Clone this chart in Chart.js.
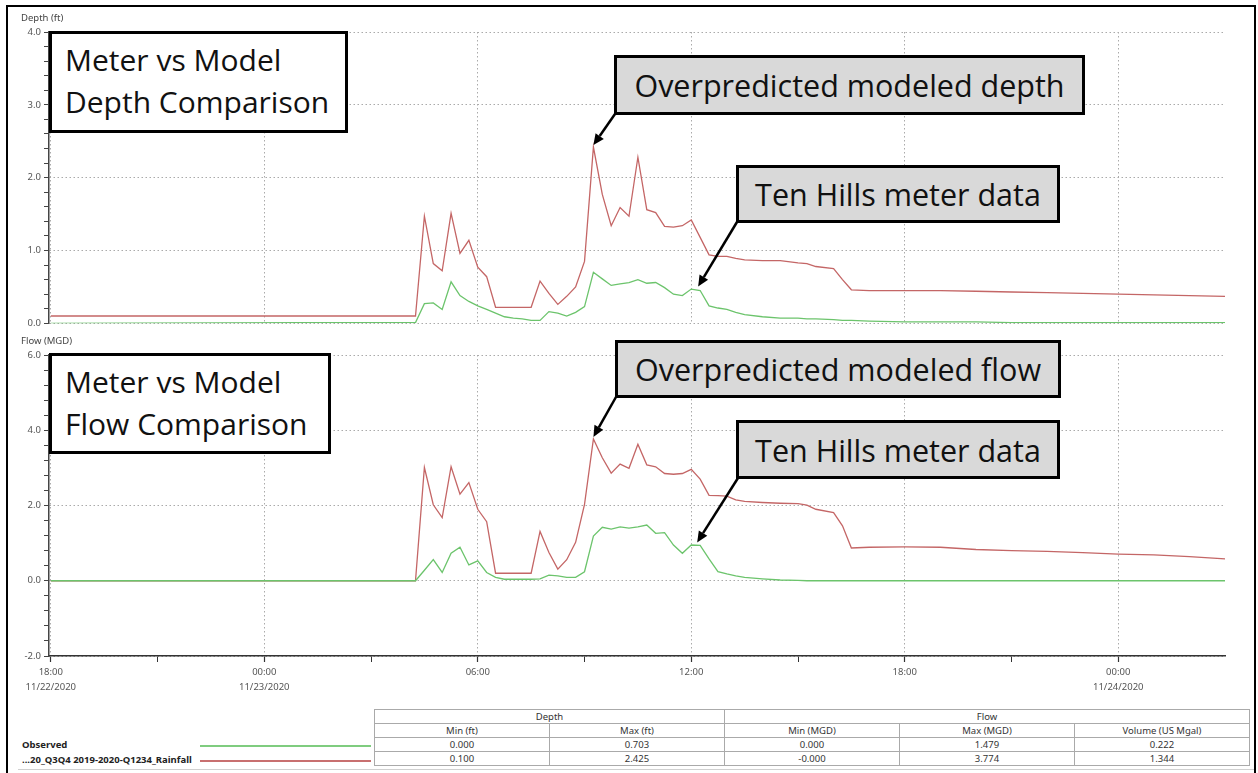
<!DOCTYPE html>
<html>
<head>
<meta charset="utf-8">
<script src="https://cdn.jsdelivr.net/npm/chart.js@4.4.1/dist/chart.umd.min.js"></script>
<style>
    body { margin: 0; background: #fff; }
    #page { position: relative; width: 1258px; height: 773px; overflow: hidden; font-family: 'Noto Sans', sans-serif; }
    #frame { position: absolute; left: 6px; top: 5px; width: 1246px; height: 800px; border: 2px solid #000; }
    canvas { position: absolute; left: 0; }
    .axisTitle { position: absolute; left: 21px; font-size: 9.5px; color: #444; }
    .note { position: absolute; box-sizing: border-box; border: 3px solid #000; font-family: 'Open Sans', sans-serif; color: #111; white-space: nowrap; }
    .title { background: #fff; font-size: 30px; line-height: 42px; padding: 5px 0 0 13px; }
    .callout { background: #d9d9d9; font-size: 30.5px; display: flex; align-items: center; justify-content: center; }
    #legend { position: absolute; left: 22px; font-size: 9.5px; font-weight: bold; color: #222; }
    .swatch { position: absolute; left: 200px; width: 171px; height: 2px; }
    table { position: absolute; left: 374px; top: 709px; border-collapse: collapse; font-size: 9.5px; color: #333; }
    td { border: 1px solid #aaa; width: 174px; height: 13px; padding: 0; text-align: center; line-height: 13px; }
    #bottomLine { position: absolute; left: 18px; top: 769px; width: 1236px; height: 1px; background: #d0d0d0; }
</style>
</head>
<body>
<div id="page">
    <div id="frame"></div>
    <canvas id="depthChart" width="1258" height="332" style="top:0"></canvas>
    <canvas id="flowChart" width="1258" height="372" style="top:330px"></canvas>

    <div class="axisTitle" style="top:11px">Depth (ft)</div>
    <div class="axisTitle" style="top:334px">Flow (MGD)</div>

    <div class="note title" style="left:49px;top:31px;width:299px;height:102px">Meter vs Model<br>Depth Comparison</div>
    <div class="note title" style="left:49px;top:353px;width:282px;height:101px">Meter vs Model<br>Flow Comparison</div>
    <div class="note callout" style="left:614px;top:55px;width:471px;height:60px">Overpredicted modeled depth</div>
    <div class="note callout" style="left:736px;top:165px;width:324px;height:58px">Ten Hills meter data</div>
    <div class="note callout" style="left:615px;top:340px;width:446px;height:58px">Overpredicted modeled flow</div>
    <div class="note callout" style="left:736px;top:420px;width:324px;height:59px">Ten Hills meter data</div>

    <div id="legend">
        <div style="position:absolute;top:738px;white-space:nowrap">Observed</div>
        <div style="position:absolute;top:753px;white-space:nowrap">...20_Q3Q4 2019-2020-Q1234_Rainfall</div>
    </div>
    <div class="swatch" style="top:745px;background:#7fcc7f"></div>
    <div class="swatch" style="top:760px;background:#c87070"></div>

    <table>
        <tr><td colspan="2">Depth</td><td colspan="3">Flow</td></tr>
        <tr><td>Min (ft)</td><td>Max (ft)</td><td>Min (MGD)</td><td>Max (MGD)</td><td>Volume (US Mgal)</td></tr>
        <tr><td>0.000</td><td>0.703</td><td>0.000</td><td>1.479</td><td>0.222</td></tr>
        <tr><td>0.100</td><td>2.425</td><td>-0.000</td><td>3.774</td><td>1.344</td></tr>
    </table>
    <div id="bottomLine"></div>
</div>

<script>
// hours after 18:00 11/22/2020
const hours = [0, 7, 10.25, 10.5, 10.75, 11, 11.25, 11.5, 11.75, 12,
    12.25, 12.5, 12.75, 13, 13.25, 13.5, 13.75, 14, 14.25, 14.5,
    14.75, 15, 15.25, 15.5, 15.75, 16, 16.25, 16.5, 16.75, 17,
    17.25, 17.5, 17.75, 18, 18.25, 18.5, 18.75, 19, 19.25, 19.5,
    20, 20.5, 21, 21.25, 21.5, 22, 22.25, 22.5, 23, 24,
    25, 26, 27, 28, 29, 30, 31, 32, 33];

const depthModel = [0.1, 0.1, 0.1, 1.47, 0.82, 0.72, 1.51, 0.96, 1.14, 0.77,
    0.64, 0.22, 0.22, 0.22, 0.22, 0.22, 0.58, 0.41, 0.26, 0.37,
    0.50, 0.85, 2.42, 1.77, 1.34, 1.59, 1.47, 2.28, 1.56, 1.52,
    1.33, 1.32, 1.34, 1.42, 1.18, 0.94, 0.92, 0.92, 0.89, 0.87,
    0.86, 0.86, 0.83, 0.82, 0.78, 0.75, 0.60, 0.46, 0.45, 0.45,
    0.45, 0.44, 0.43, 0.42, 0.41, 0.40, 0.39, 0.38, 0.37];

const depthObserved = [0, 0.01, 0.01, 0.27, 0.28, 0.19, 0.57, 0.38, 0.30, 0.24,
    0.19, 0.14, 0.09, 0.07, 0.06, 0.04, 0.04, 0.16, 0.14, 0.10,
    0.15, 0.23, 0.70, 0.61, 0.52, 0.54, 0.56, 0.60, 0.55, 0.56,
    0.49, 0.40, 0.38, 0.47, 0.45, 0.24, 0.21, 0.19, 0.15, 0.12,
    0.09, 0.07, 0.07, 0.06, 0.06, 0.05, 0.04, 0.04, 0.03, 0.02,
    0.02, 0.02, 0.01, 0.01, 0.01, 0.01, 0.01, 0.01, 0.01];

const flowModel = [0, 0, 0, 3.01, 2.02, 1.68, 3.03, 2.30, 2.61, 1.90,
    1.57, 0.20, 0.20, 0.20, 0.20, 0.20, 1.31, 0.75, 0.31, 0.56,
    1.02, 2.03, 3.77, 3.27, 2.86, 3.10, 2.99, 3.63, 3.08, 3.03,
    2.85, 2.83, 2.85, 2.96, 2.70, 2.27, 2.26, 2.25, 2.15, 2.11,
    2.08, 2.06, 2.05, 2.01, 1.90, 1.81, 1.46, 0.87, 0.89, 0.90,
    0.89, 0.83, 0.80, 0.78, 0.75, 0.71, 0.69, 0.64, 0.58];

const flowObserved = [0, 0, 0, 0.28, 0.56, 0.22, 0.73, 0.89, 0.42, 0.53,
    0.22, 0.09, 0.04, 0.04, 0.04, 0.04, 0.05, 0.15, 0.13, 0.09,
    0.09, 0.24, 1.19, 1.42, 1.37, 1.43, 1.40, 1.43, 1.48, 1.26,
    1.28, 0.95, 0.73, 0.95, 0.94, 0.58, 0.24, 0.18, 0.13, 0.09,
    0.05, 0.02, 0.01, 0, 0, 0, 0, 0, 0, 0,
    0, 0, 0, 0, 0, 0, 0, 0, 0];

const xTickHours = [0, 3, 6, 9, 12, 15, 18, 21, 24, 27, 30];
const xTickLabels = { 0: ['18:00', '11/22/2020'], 6: ['00:00', '11/23/2020'], 12: '06:00',
    18: '12:00', 24: '18:00', 30: ['00:00', '11/24/2020'] };

const GREEN = '#6cc46c';
const RED = '#c46666';
const tickFont = { family: 'Noto Sans', size: 9.5 };

const pts = vals => vals.map((v, i) => ({ x: hours[i], y: v }));
const isMajor = (v, step) => Math.abs(v / step - Math.round(v / step)) < 1e-6;

function drawArrow(ctx, x1, y1, x2, y2) {
    const a = Math.atan2(y2 - y1, x2 - x1);
    const len = 11, half = 5;
    const bx = x2 - len * Math.cos(a), by = y2 - len * Math.sin(a);
    ctx.save();
    ctx.strokeStyle = '#000';
    ctx.fillStyle = '#000';
    ctx.lineWidth = 2.5;
    ctx.beginPath();
    ctx.moveTo(x1, y1);
    ctx.lineTo(bx, by);
    ctx.stroke();
    ctx.beginPath();
    ctx.moveTo(x2, y2);
    ctx.lineTo(bx + half * Math.sin(a), by - half * Math.cos(a));
    ctx.lineTo(bx - half * Math.sin(a), by + half * Math.cos(a));
    ctx.closePath();
    ctx.fill();
    ctx.restore();
}

// arrows from the callout boxes to points of the series
const arrowPlugin = {
    id: 'arrows',
    afterDatasetsDraw(chart, args, opts) {
        opts.list.forEach(a => {
            const p = chart.getDatasetMeta(a.dataset).data[a.index];
            drawArrow(chart.ctx, a.fromX, a.fromY, p.x + a.dx, p.y + a.dy);
        });
    }
};

function makeChart(id, model, observed, yMin, yMax, yStep, yMajor, padTop, padBottom, showX, arrows) {
    const peak = model.indexOf(Math.max(...model));
    return new Chart(document.getElementById(id), {
        type: 'line',
        data: {
            datasets: [
                { label: 'Observed', data: pts(observed), borderColor: GREEN, borderWidth: 1.3 },
                { label: 'Model', data: pts(model), borderColor: RED, borderWidth: 1.3 }
            ]
        },
        options: {
            responsive: false,
            animation: false,
            events: [],
            layout: { padding: { left: 0, right: 33, top: padTop, bottom: padBottom } },
            elements: { point: { radius: 0 }, line: { tension: 0 } },
            plugins: {
                legend: { display: false },
                tooltip: { enabled: false },
                arrows: { list: arrows(peak) }
            },
            scales: {
                x: {
                    type: 'linear', min: -0.05, max: 33,
                    afterBuildTicks: axis => { axis.ticks = xTickHours.map(v => ({ value: v })); },
                    afterFit: axis => { axis.height = showX ? 46 : 0; },
                    ticks: {
                        display: showX, maxRotation: 0, autoSkip: false, padding: 3,
                        color: '#555', font: { ...tickFont, lineHeight: '15px' },
                        callback: v => xTickLabels[v] || ''
                    },
                    grid: {
                        drawTicks: showX, tickLength: 6,
                        color: c => isMajor(c.tick.value, 6) ? '#aaaaaa' : 'transparent',
                        tickColor: '#333',
                        tickWidth: c => isMajor(c.tick.value, 6) ? 1.2 : 1
                    },
                    border: { display: showX, color: '#333', width: 1.5, dash: [1.5, 2.5] }
                },
                y: {
                    min: yMin, max: yMax,
                    afterBuildTicks: axis => {
                        const t = [];
                        for (let v = yMin; v <= yMax + 1e-9; v += yStep) t.push({ value: Math.round(v * 100) / 100 });
                        axis.ticks = t;
                    },
                    afterFit: axis => { axis.width = 49; },
                    ticks: {
                        autoSkip: false, padding: 3, color: '#555', font: tickFont,
                        callback: v => isMajor(v, yMajor) ? v.toFixed(1) : ''
                    },
                    grid: {
                        tickLength: 5,
                        color: c => isMajor(c.tick.value, yMajor) ? '#aaaaaa' : 'transparent',
                        tickColor: '#444'
                    },
                    border: { color: '#444', width: 1.5, dash: [1.5, 2.5] }
                }
            }
        },
        plugins: [arrowPlugin]
    });
}

makeChart('depthChart', depthModel, depthObserved, 0, 4, 0.2, 1, 32, 5, false, peak => [
    { dataset: 1, index: peak, fromX: 615, fromY: 114, dx: 0, dy: -2 },
    { dataset: 0, index: 34, fromX: 737, fromY: 222, dx: -2, dy: -4 }
]);

makeChart('flowChart', flowModel, flowObserved, -2, 6, 0.4, 2, 25, 0, true, peak => [
    { dataset: 1, index: peak, fromX: 616, fromY: 67, dx: 0, dy: -2 },
    { dataset: 0, index: 34, fromX: 738, fromY: 148, dx: -3, dy: -3 }
]);
</script>
</body>
</html>
